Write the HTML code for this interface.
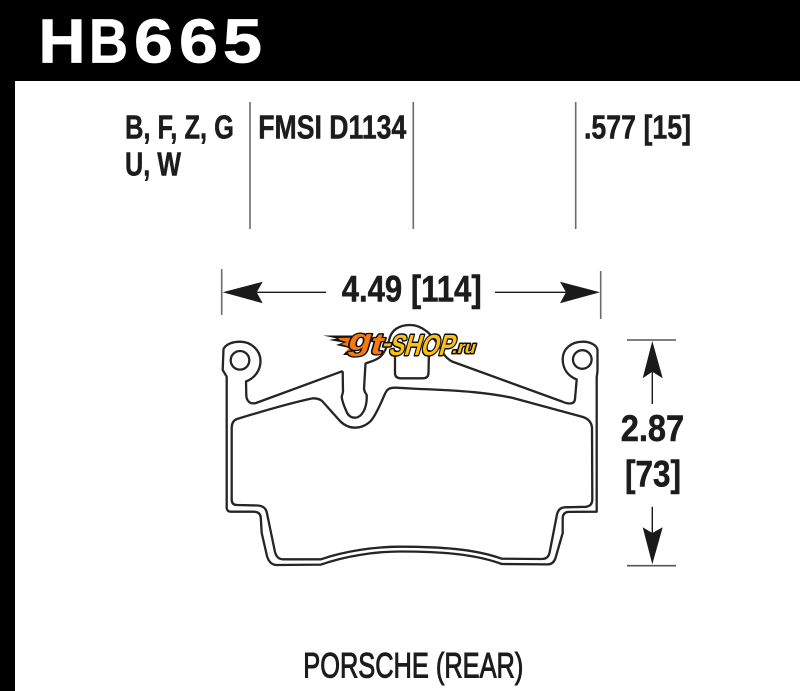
<!DOCTYPE html>
<html lang="en">
<head>
<meta charset="utf-8">
<title>HB665</title>
<style>
html,body{margin:0;padding:0;background:#fff;width:800px;height:691px;overflow:hidden}
svg{display:block}
text{font-family:"Liberation Sans",Arial,sans-serif;font-weight:700;fill:#1c1c1c}
.d{stroke:#1c1c1c;stroke-width:.5}
.h{fill:#fff;stroke:#fff;stroke-width:.8;font-size:62px}
.l{stroke:#0d0d0d;stroke-width:3;paint-order:stroke;stroke-linejoin:round}
</style>
</head>
<body>
<svg width="800" height="691" viewBox="0 0 800 691" xmlns="http://www.w3.org/2000/svg">
<rect width="800" height="691" fill="#fff"/>
<rect width="800" height="81" fill="#000"/>
<rect width="15" height="691" fill="#000"/>
<text class="h" x="38.5" y="62.5" textLength="47" lengthAdjust="spacingAndGlyphs">H</text>
<text class="h" x="89" y="62.5" textLength="39" lengthAdjust="spacingAndGlyphs">B</text>
<text class="h" x="134" y="62.5" textLength="39" lengthAdjust="spacingAndGlyphs">6</text>
<text class="h" x="179" y="62.5" textLength="39" lengthAdjust="spacingAndGlyphs">6</text>
<text class="h" x="223" y="62.5" textLength="39" lengthAdjust="spacingAndGlyphs">5</text>

<g stroke="#6b6b6b" stroke-width="1.6" fill="none">
<path d="M250 102V229M413.3 102V229M575.7 102V229"/>
<path d="M221.7 269V315M600.7 271V319"/>
<path d="M627 340H676M627 565.7H676" stroke="#555"/>
</g>

<text class="d" x="125" y="138.3" font-size="33" textLength="109" lengthAdjust="spacingAndGlyphs">B, F, Z, G</text>
<text class="d" x="125" y="175.5" font-size="33" textLength="56" lengthAdjust="spacingAndGlyphs">U, W</text>
<text class="d" x="258.3" y="138.3" font-size="33" textLength="148" lengthAdjust="spacingAndGlyphs">FMSI D1134</text>
<text class="d" x="584" y="138.3" font-size="33" textLength="107" lengthAdjust="spacingAndGlyphs">.577 [15]</text>
<text class="d" x="341.7" y="301.7" font-size="37" textLength="140" lengthAdjust="spacingAndGlyphs">4.49 [114]</text>
<text class="d" x="620.7" y="441" font-size="37" textLength="63.5" lengthAdjust="spacingAndGlyphs">2.87</text>
<text class="d" x="625" y="486.7" font-size="37" textLength="56" lengthAdjust="spacingAndGlyphs">[73]</text>
<text x="303.3" y="677.3" font-size="35" textLength="220" lengthAdjust="spacingAndGlyphs" style="font-weight:400;stroke:#1c1c1c;stroke-width:1">PORSCHE (REAR)</text>

<g fill="#1a1a1a" stroke="#1a1a1a" stroke-width="1.4">
<path d="M256 292.3H326M495 292.3H566" fill="none"/>
<path d="M652.3 372V404M652.3 506.7V533" fill="none"/>
</g>
<g fill="#1a1a1a">
<path d="M222.7 292.3L262.7 281.7L256.7 292.3L262.7 303.3Z"/>
<path d="M600 292.3L560 281.7L566 292.3L560 303.3Z"/>
<path d="M652.3 341L642.7 378.3L652.3 371.7L662.7 378.3Z"/>
<path d="M652.3 564.3L642.7 527.3L652.3 533L662.7 527.3Z"/>
</g>

<g fill="none" stroke="#252525" stroke-width="2.3" stroke-linejoin="round">
<!-- outer pad outline -->
<path d="M226.7 508 Q227 511.7 231 511.7 L254 511.7 Q260.5 512 260.8 518 L261.7 533 L267 556 Q269.5 565 277 565 L321 564.6 C345 556 375 551.5 400 551.5 C440 551.5 475 554 501.7 564 L547 564.4 Q553.5 564.5 555.5 558 L562.7 533 L562.7 518 Q563 512 569 511.9 L596.7 511.7 L596.7 377 Q597.5 372 597.5 370 L597.5 350 C597 345 590 341.7 583 341.7 C571 341.7 562.7 349 562.7 359 C562.7 369 568 376 576.7 379.5 L575 399 Q574.5 403.5 570 403.5 Q566 403.5 562 401.5 L452 361.5 Q446 358 443.3 353.3 C432 333 422 325 410 325 C398 325 392 331 390 337 C387.5 346 384 354 380 357 C375 361 369 362 365.5 363.5 L364 389 Q364.5 392 366.7 395 C367 402 366 407 363.5 411.5 C361 416 358 417.7 355 417.7 C351 417.7 348.5 416 346.7 412 C344 406 342 401 341.7 396.7 L343 392 L342.7 372 Q342 371 341 371.7 L256 403 Q250 404.5 247.5 400 Q246.3 398 246.3 395 L246 381.5 C255 378 260.5 370 260.5 361 C260.5 350 251 341.7 240 341.7 C233 341.7 226 344 223.5 349 L222.7 370 L226.7 376.7 Z"/>
<!-- inner pad outline -->
<path d="M231.7 500 Q232 505 237 505 L258 505.5 Q265 506 266.7 512 L275 552 Q277 559.3 283 559.3 L321 559.3 C345 551 375 546.7 400 546.7 C440 546.7 475 549 501.7 558.7 L542 559 Q548 559 549.5 553 L556.7 516 Q558 507.5 565 507.3 L586 506.8 Q592 506 592.3 500 L592 428 Q591.5 420 583 417 L513 398 C490 393 463 390.5 420 389 L396 387.7 C388 387.5 386.5 390 384 396 C378 410 374 418 370 421.7 C365 426 360 427.7 355 427.7 C349 427.7 344 425 340 421 L323 402 Q320 398.3 313 398.3 C295 402 260 412 237 419 Q231.7 421 231.7 428 Z"/>
<!-- window -->
<path d="M395 350V373Q395 378.3 401 378.3H423Q428.3 378.3 428.5 373L429 350"/>
<!-- ear holes -->
<circle cx="240" cy="360.3" r="9.3"/>
<circle cx="582.3" cy="359.5" r="9.3"/>
</g>

<!-- logo -->
<g>
<path d="M323 335.5L358 335.5L352 355L343 355L349 348L336 345L343 342.5L329 340L337 338.5Z" fill="#141414"/>
<path d="M338 338L358 337.5L351 352L345 352L350 347L341 344L347 342L340 340Z" fill="#f47a10"/>
<g transform="translate(343 355) skewX(-16)">
<text class="l" x="2" y="-5" font-size="30" textLength="36" lengthAdjust="spacingAndGlyphs" style="fill:#f47a10;stroke-width:2.6">g<tspan dy="4">t</tspan></text>
<text class="l" x="37" y="-4" font-size="24" textLength="9" lengthAdjust="spacingAndGlyphs" style="fill:#fdbb12">-</text>
<text class="l" x="45" y="0" font-size="29" textLength="65" lengthAdjust="spacingAndGlyphs" style="fill:#fdc010">SHOP</text>
<text class="l" x="108" y="-2" font-size="17" textLength="23" lengthAdjust="spacingAndGlyphs" style="fill:#fdc010;stroke-width:3">.ru</text>
</g>
</g>
</svg>
</body>
</html>
